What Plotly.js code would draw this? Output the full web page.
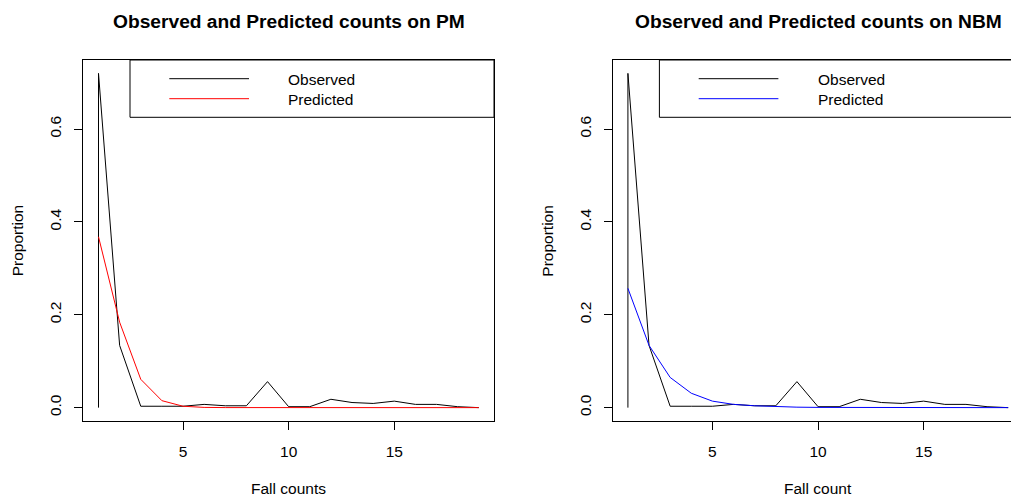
<!DOCTYPE html>
<html>
<head>
<meta charset="utf-8">
<script src="https://cdn.plot.ly/plotly-3.0.1.min.js"></script>
<style>
html, body { margin:0; padding:0; overflow:hidden; background:#fff; }
#chart { width:1024px; height:497px; }
</style>
</head>
<body>
<div id="chart"></div>
<script>
// ---- data ----
const obsX = [1, 1, 2, 3, 4, 5, 6, 7, 8, 9, 10, 11, 12, 13, 14, 15, 16, 17, 18, 19];
const obsY = [0, 0.72, 0.134, 0.003, 0.003, 0.003, 0.007, 0.004, 0.004, 0.056, 0.002, 0.002, 0.018, 0.011, 0.009, 0.014, 0.007, 0.007, 0.002, 0];
const predX = [1, 2, 3, 4, 5, 6, 7, 8, 9, 10, 11, 12, 13, 14, 15, 16, 17, 18, 19];
const predPM = [0.368, 0.184, 0.061, 0.015, 0.003, 0.0005, 0.0001, 0, 0, 0, 0, 0, 0, 0, 0, 0, 0, 0, 0];
const predNBM = [0.257, 0.134, 0.065, 0.031, 0.014, 0.007, 0.004, 0.002, 0.001, 0.0005, 0.0003, 0.0001, 0, 0, 0, 0, 0, 0, 0];
const titles = ["Observed and Predicted counts on PM", "Observed and Predicted counts on NBM"];
const xTitles = ["Fall counts", "Fall count"];
const yTitle = "Proportion";
const legendLabels = ["Observed", "Predicted"];
const predColors = ["#FF0000", "#0000FF"];
const xTickVals = [5, 10, 15];
const yTickVals = [0, 0.2, 0.4, 0.6];

// ---- layout geometry ----
const W = 1024, H = 497;
const FONT = "Liberation Sans, Arial, sans-serif";
const px = v => v / W;
const py = v => 1 - v / H;
const panels = [
  {left: 83.3, right: 494, top: 60, bottom: 421},
  {left: 612.7, right: 1023.4, top: 60, bottom: 421}
];

const data = [];
const shapes = [];
const annotations = [];

panels.forEach((p, i) => {
  const xa = i === 0 ? 'x' : 'x2';
  const ya = i === 0 ? 'y' : 'y2';
  data.push({x: obsX, y: obsY, xaxis: xa, yaxis: ya, type: 'scatter', mode: 'lines',
             line: {color: '#000000', width: 1}, name: legendLabels[0], showlegend: false, hoverinfo: 'skip'});
  data.push({x: predX, y: i === 0 ? predPM : predNBM, xaxis: xa, yaxis: ya, type: 'scatter', mode: 'lines',
             line: {color: predColors[i], width: 1}, name: legendLabels[1], showlegend: false, hoverinfo: 'skip'});

  // legend box
  shapes.push({type: 'rect', xref: 'paper', yref: 'paper',
    x0: px(p.left + 46.7), x1: px(p.right), y0: py(117.3), y1: py(p.top),
    line: {color: '#000', width: 1}, fillcolor: 'rgba(0,0,0,0)'});
  const lineYs = [78.7, 98.7];
  const textYs = [80, 99.5];
  [0, 1].forEach(k => {
    shapes.push({type: 'line', xref: 'paper', yref: 'paper',
      x0: px(p.left + 86), x1: px(p.left + 165.7), y0: py(lineYs[k]), y1: py(lineYs[k]),
      line: {color: k === 0 ? '#000' : predColors[i], width: 1}});
    annotations.push({xref: 'paper', yref: 'paper', x: px(p.left + 203), y: py(textYs[k]),
      xanchor: 'left', yanchor: 'middle', showarrow: false, text: legendLabels[k],
      font: {family: FONT, size: 15.5, color: '#000'}});
  });

  // titles
  const cx = (p.left + p.right) / 2;
  annotations.push({xref: 'paper', yref: 'paper', x: px(cx), y: py(21.7), xanchor: 'center', yanchor: 'middle',
    showarrow: false, text: '<b>' + titles[i] + '</b>', font: {family: FONT, size: 19.2, color: '#000'}});
  annotations.push({xref: 'paper', yref: 'paper', x: px(cx), y: py(488), xanchor: 'center', yanchor: 'middle',
    showarrow: false, text: xTitles[i], font: {family: FONT, size: 15.5, color: '#000'}});
  annotations.push({xref: 'paper', yref: 'paper', x: px(p.left - 65.5), y: py((p.top + p.bottom) / 2),
    xanchor: 'center', yanchor: 'middle', textangle: -90,
    showarrow: false, text: yTitle, font: {family: FONT, size: 15.5, color: '#000'}});
});

function xAxis(p, anchor) {
  return {domain: [px(p.left), px(p.right)], anchor: anchor, range: [0.28, 19.72],
    showgrid: false, zeroline: false, showline: true, mirror: true, linecolor: '#000', linewidth: 1,
    ticks: 'outside', ticklen: 8, tickwidth: 1, tickcolor: '#000', tickvals: xTickVals,
    ticklabelstandoff: 8, tickfont: {family: FONT, size: 15.5, color: '#000'}};
}
function yAxis(p, anchor) {
  return {domain: [1 - p.bottom / H, 1 - p.top / H], anchor: anchor, range: [-0.0288, 0.7488],
    showgrid: false, zeroline: false, showline: true, mirror: true, linecolor: '#000', linewidth: 1,
    ticks: 'outside', ticklen: 8, tickwidth: 1, tickcolor: '#000', tickvals: yTickVals, tickformat: '.1f',
    tickangle: -90, ticklabelstandoff: 7, tickfont: {family: FONT, size: 15.5, color: '#000'}};
}

const layout = {
  width: W, height: H,
  margin: {l: 0, r: 0, t: 0, b: 0},
  paper_bgcolor: '#fff', plot_bgcolor: '#fff',
  showlegend: false,
  xaxis: xAxis(panels[0], 'y'),
  yaxis: yAxis(panels[0], 'x'),
  xaxis2: xAxis(panels[1], 'y2'),
  yaxis2: yAxis(panels[1], 'x2'),
  shapes: shapes,
  annotations: annotations,
  font: {family: FONT}
};

Plotly.newPlot('chart', data, layout, {staticPlot: true, displayModeBar: false});
</script>
</body>
</html>
